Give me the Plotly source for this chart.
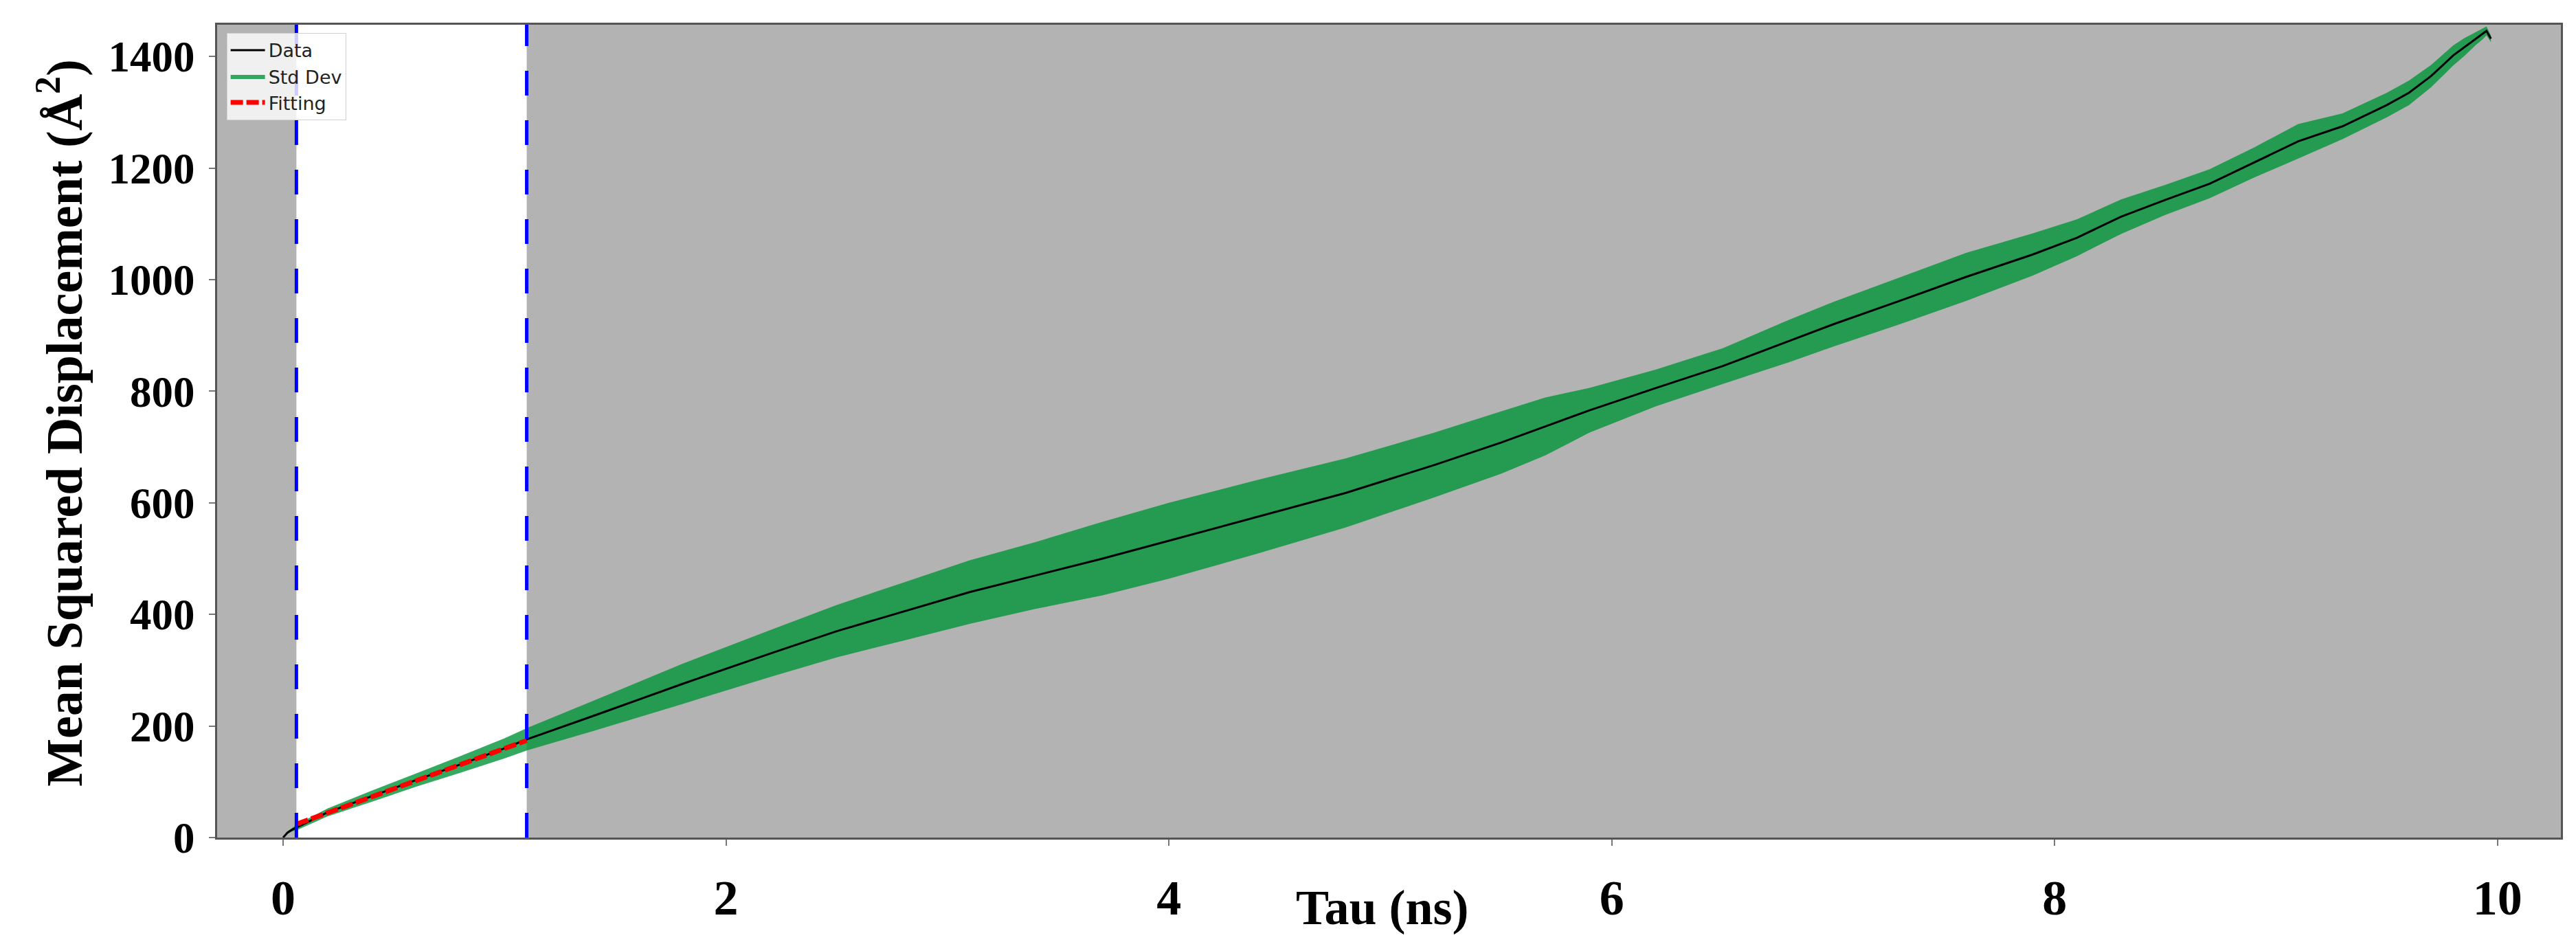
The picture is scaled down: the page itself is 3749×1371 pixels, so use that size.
import plotly.graph_objects as go

# ---- data ----
tau = [0, 0.01, 0.02, 0.04, 0.06, 0.2, 0.4, 0.6, 0.8, 1.0, 1.1, 1.4, 1.8, 2.2, 2.5, 2.8,
       3.1, 3.4, 3.7, 4.0, 4.4, 4.8, 5.2, 5.5, 5.7, 5.9, 6.2, 6.5, 6.8, 7.0, 7.3, 7.6,
       7.9, 8.1, 8.3, 8.5, 8.7, 8.9, 9.1, 9.3, 9.5, 9.6, 9.7, 9.8, 9.85, 9.9, 9.93, 9.95, 9.97]
msd = [0, 5, 9, 14, 18, 45, 74, 103, 131, 160, 176, 218, 275, 330, 370, 405,
       440, 470, 500, 532, 575, 618, 668, 708, 737, 766, 806, 845, 890, 920, 962, 1005,
       1045, 1075, 1113, 1143, 1172, 1210, 1248, 1275, 1313, 1335, 1365, 1402, 1417, 1432, 1440, 1446, 1432]
std = [0, 1, 2, 3, 5, 7, 10, 12, 15, 18, 20, 27, 36, 42, 47, 52,
       57, 60, 66, 68, 66, 62, 58, 56, 52, 40, 33, 32, 38, 40, 42, 43,
       38, 33, 31, 27, 26, 27, 31, 23, 22, 22, 20, 18, 16, 12, 10, 8, 6]

fit_tau = [0.06, 1.1]
fit_msd = [24, 174]
fit_range = [0.06, 1.1]

x_ticks = [0, 2, 4, 6, 8, 10]
y_ticks = [0, 200, 400, 600, 800, 1000, 1200, 1400]

upper = [m + s for m, s in zip(msd, std)]
lower = [m - s for m, s in zip(msd, std)]

SERIF = "Liberation Serif"
GREEN = "rgba(0,149,55,0.8)"
fig = go.Figure()

fig.add_trace(go.Scatter(x=tau + tau[::-1], y=upper + lower[::-1], mode="lines", fill="toself",
                         fillcolor=GREEN, line=dict(width=0, color=GREEN),
                         name="Std Dev", legendrank=2, hoverinfo="skip"))
fig.add_trace(go.Scatter(x=tau, y=msd, mode="lines", line=dict(color="black", width=3),
                         name="Data", legendrank=1))
fig.add_trace(go.Scatter(x=fit_tau, y=fit_msd, mode="lines",
                         line=dict(color="#ff0000", width=7, dash="18px,5px"),
                         name="Fitting", legendrank=3))

# white (fitting) window over the gray background
fig.add_vrect(x0=fit_range[0], x1=fit_range[1], fillcolor="white", line_width=0, layer="below")
for xv in fit_range:
    fig.add_shape(type="line", xref="x", yref="paper", x0=xv, x1=xv, y0=0, y1=1,
                  line=dict(color="#0000ff", width=5, dash="36px,36px"), layer="above")

axis_common = dict(showline=True, mirror=True, linecolor="#555555", linewidth=3,
                   ticks="outside", ticklen=9, tickwidth=2, tickcolor="#777777",
                   showgrid=False, zeroline=False)

fig.update_layout(
    width=3749, height=1371, autosize=False,
    margin=dict(l=308, r=30, t=28, b=160),
    paper_bgcolor="white", plot_bgcolor="#b3b3b3",
    xaxis=dict(range=[-0.298, 10.286], tickvals=x_ticks, ticklabelstandoff=14,
               tickfont=dict(family=SERIF, size=72, color="black", weight=700), **axis_common),
    yaxis=dict(range=[0, 1457], tickvals=y_ticks, ticklabelstandoff=8,
               tickfont=dict(family=SERIF, size=63, color="black", weight=700), **axis_common),
    legend=dict(x=0.004, y=0.99, xanchor="left", yanchor="top", traceorder="normal",
                itemwidth=50,
                bgcolor="rgba(255,255,255,0.8)", bordercolor="#d0d0d0", borderwidth=1,
                font=dict(family="DejaVu Sans", size=27, color="#222222")),
    annotations=[
        dict(text="Tau (ns)", xref="paper", yref="paper", x=0.497, y=-0.086,
             xanchor="center", yanchor="middle", showarrow=False,
             font=dict(family=SERIF, size=72, color="black", weight=700)),
        dict(text="Mean Squared Displacement (Å<sup>2</sup>)", xref="paper", yref="paper",
             x=-0.0668, y=0.51, xanchor="center", yanchor="middle", textangle=-90,
             showarrow=False, font=dict(family=SERIF, size=74, color="black", weight=700)),
    ],
)

fig.write_html("out.html")
